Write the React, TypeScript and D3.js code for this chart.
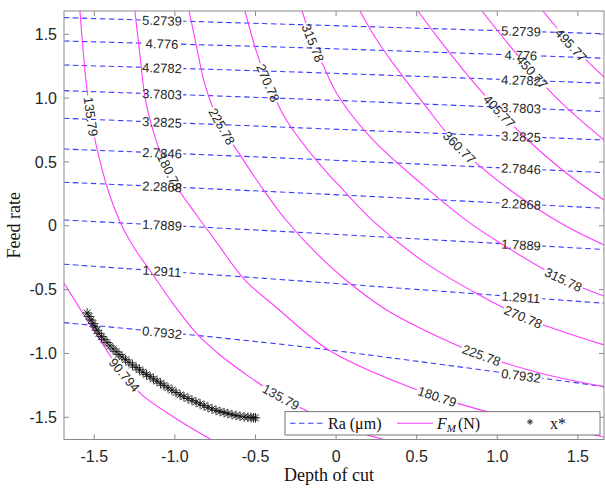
import * as d3 from "d3";

const WIDTH = 605;
const HEIGHT = 491;
const PLOT = { left: 64, right: 604, top: 11, bottom: 439.5 };

const X_DOMAIN = [-1.688, 1.662];
const Y_DOMAIN = [-1.674, 1.682];

const TICKS = [-1.5, -1, -0.5, 0, 0.5, 1, 1.5];
const TICK_LABELS = ["-1.5", "-1.0", "-0.5", "0", "0.5", "1.0", "1.5"];

// Ra contours, read at the left edge, near the middle and at the right edge
const raLevels = ["0.7932", "1.2911", "1.7889", "2.2868", "2.7846", "3.2825", "3.7803", "4.2782", "4.776", "5.2739"];
const raSampleX = [-1.688, -0.224, 1.662];
const raLeftY = [-0.759, -0.301, 0.045, 0.341, 0.601, 0.842, 1.058, 1.259, 1.447, 1.63];
const raMidY = [-0.945, -0.432, -0.052, 0.257, 0.525, 0.767, 0.993, 1.203, 1.395, 1.575];
const raRightY = [-1.26, -0.607, -0.186, 0.137, 0.416, 0.672, 0.894, 1.116, 1.312, 1.504];
const raLabelX = [-1.08, 1.147];

// FM contours
const fm090 = [[-1.688, -0.448], [-1.576, -0.675], [-1.465, -0.894], [-1.341, -1.129], [-1.204, -1.325], [-0.999, -1.505], [-0.776, -1.674]];
const fm135 = [[-1.589, 1.682], [-1.552, 1.142], [-1.514, 0.789], [-1.477, 0.57], [-1.415, 0.28], [-1.334, 0.014], [-1.248, -0.182], [-1.148, -0.362], [-1.006, -0.62], [-0.863, -0.847], [-0.72, -1.012], [-0.571, -1.153], [-0.379, -1.317], [-0.168, -1.458], [0.055, -1.583], [0.297, -1.674]];
const fm180 = [[-1.248, 1.682], [-1.217, 1.338], [-1.186, 1.009], [-1.142, 0.774], [-1.08, 0.539], [-0.987, 0.304], [-0.875, 0.1], [-0.751, -0.112], [-0.571, -0.417], [-0.367, -0.644], [-0.056, -0.965], [0.254, -1.16], [0.502, -1.285], [0.744, -1.387], [1.017, -1.482], [1.327, -1.568], [1.662, -1.654]];
const fm225 = [[-0.912, 1.682], [-0.869, 1.424], [-0.813, 1.103], [-0.726, 0.813], [-0.596, 0.555], [-0.459, 0.296], [-0.311, 0.045], [-0.124, -0.213], [0.068, -0.433], [0.303, -0.652], [0.545, -0.816], [0.899, -1.012], [1.265, -1.153], [1.662, -1.262]];
const fm270 = [[-0.565, 1.682], [-0.497, 1.376], [-0.422, 1.118], [-0.305, 0.821], [-0.118, 0.507], [0.049, 0.273], [0.235, 0.03], [0.545, -0.283], [0.831, -0.502], [1.159, -0.714], [1.662, -0.933]];
const fm315 = [[-0.211, 1.682], [-0.143, 1.431], [-0.081, 1.259], [0.006, 1.032], [0.217, 0.688], [0.545, 0.312], [0.812, 0.038], [1.017, -0.135], [1.401, -0.417], [1.662, -0.55]];
const fm360 = [[0.148, 1.682], [0.241, 1.478], [0.347, 1.283], [0.545, 0.954], [0.762, 0.617], [1.079, 0.28], [1.414, 0.006], [1.662, -0.15]];
const fm405 = [[0.508, 1.682], [0.632, 1.471], [0.8, 1.204], [1.004, 0.907], [1.203, 0.656], [1.42, 0.421], [1.662, 0.202]];
const fm450 = [[0.905, 1.682], [1.048, 1.455], [1.216, 1.204], [1.42, 0.937], [1.662, 0.672]];
const fm495 = [[1.283, 1.682], [1.37, 1.549], [1.457, 1.416], [1.563, 1.283], [1.662, 1.165]];
const fmCurves = [fm090, fm135, fm180, fm225, fm270, fm315, fm360, fm405, fm450, fm495];

// [curve index, text, x, y]
const fmLabels = [
  [0, "90.794", -1.328, -1.184],
  [1, "135.79", -1.529, 0.854],
  [1, "135.79", -0.342, -1.341],
  [2, "180.78", -1.021, 0.429],
  [2, "180.79", 0.623, -1.352],
  [3, "225.78", -0.711, 0.776],
  [3, "225.78", 0.899, -1.027],
  [4, "270.78", -0.422, 1.118],
  [4, "270.78", 1.159, -0.722],
  [5, "315.78", -0.143, 1.431],
  [5, "315.78", 1.407, -0.432],
  [6, "360.77", 0.762, 0.609],
  [7, "405.77", 1.001, 0.883],
  [8, "450.77", 1.215, 1.204],
  [9, "495.77", 1.457, 1.416],
];

// optimum points x*
const xStarX = [-1.545, -1.533, -1.52, -1.508, -1.496, -1.483, -1.471, -1.455, -1.44, -1.421, -1.403, -1.384, -1.365, -1.347, -1.328, -1.306, -1.285, -1.263, -1.241, -1.22, -1.198, -1.176, -1.154, -1.133, -1.111, -1.089, -1.068, -1.043, -1.018, -0.993, -0.968, -0.944, -0.919, -0.894, -0.869, -0.844, -0.819, -0.795, -0.77, -0.745, -0.72, -0.695, -0.671, -0.646, -0.621, -0.596, -0.571, -0.547, -0.528, -0.512, -0.5];
const xStarY = [-0.683, -0.71, -0.738, -0.765, -0.792, -0.818, -0.843, -0.868, -0.89, -0.915, -0.941, -0.964, -0.986, -1.008, -1.027, -1.049, -1.07, -1.091, -1.11, -1.128, -1.147, -1.166, -1.182, -1.2, -1.217, -1.233, -1.25, -1.269, -1.287, -1.306, -1.325, -1.339, -1.353, -1.367, -1.381, -1.395, -1.409, -1.422, -1.435, -1.446, -1.455, -1.463, -1.471, -1.479, -1.486, -1.492, -1.497, -1.5, -1.502, -1.504, -1.505];

const SANS = "'Liberation Sans', Arial, sans-serif";
const SERIF = "'Liberation Serif', 'Times New Roman', serif";
const RA_COLOR = "#3a3aff";
const FM_COLOR = "#ff3cff";
const AXIS_COLOR = "#8a8a8a";

function textWidth(s: string) {
  let w = 0;
  for (const ch of s) w += ch === "." ? 3.6 : 7.2;
  return w;
}

// snap a label onto a pixel polyline and get its angle
function placeOn(pts: number[][], tx: number, ty: number) {
  const cum = [0];
  for (let i = 1; i < pts.length; i++) {
    cum.push(cum[i - 1] + Math.hypot(pts[i][0] - pts[i - 1][0], pts[i][1] - pts[i - 1][1]));
  }
  let best = Infinity;
  let bestS = 0;
  for (let i = 1; i < pts.length; i++) {
    const [x0, y0] = pts[i - 1];
    const [x1, y1] = pts[i];
    const dx = x1 - x0, dy = y1 - y0;
    const len2 = dx * dx + dy * dy;
    let t = len2 ? ((tx - x0) * dx + (ty - y0) * dy) / len2 : 0;
    t = Math.max(0, Math.min(1, t));
    const d = Math.hypot(x0 + t * dx - tx, y0 + t * dy - ty);
    if (d < best) {
      best = d;
      bestS = cum[i - 1] + t * Math.sqrt(len2);
    }
  }
  const at = (s: number) => {
    s = Math.max(0, Math.min(cum[cum.length - 1], s));
    for (let i = 1; i < pts.length; i++) {
      if (s <= cum[i] || i === pts.length - 1) {
        const seg = cum[i] - cum[i - 1] || 1;
        const t = (s - cum[i - 1]) / seg;
        return [pts[i - 1][0] + t * (pts[i][0] - pts[i - 1][0]), pts[i - 1][1] + t * (pts[i][1] - pts[i - 1][1])];
      }
    }
    return pts[pts.length - 1];
  };
  const p = at(bestS);
  const a = at(bestS - 10);
  const b = at(bestS + 10);
  let ang = (Math.atan2(b[1] - a[1], b[0] - a[0]) * 180) / Math.PI;
  if (ang > 90) ang -= 180;
  if (ang < -90) ang += 180;
  return { x: p[0], y: p[1], angle: ang };
}

const asterisk = (s: number) =>
  `M0,${-s}V${s}M${-s},0H${s}M${-0.7 * s},${-0.7 * s}L${0.7 * s},${0.7 * s}M${-0.7 * s},${0.7 * s}L${0.7 * s},${-0.7 * s}`;

const App = () => {
  const xScale = d3.scaleLinear().domain(X_DOMAIN).range([PLOT.left, PLOT.right]);
  const yScale = d3.scaleLinear().domain(Y_DOMAIN).range([PLOT.bottom, PLOT.top]);

  const line = d3
    .line<number[]>()
    .x((d) => d[0])
    .y((d) => d[1])
    .curve(d3.curveCatmullRom.alpha(0.5));

  const toPx = (pts: number[][]) => pts.map((p) => [xScale(p[0]), yScale(p[1])]);

  const raPaths = raLevels.map((_, i) =>
    toPx([
      [raSampleX[0], raLeftY[i]],
      [raSampleX[1], raMidY[i]],
      [raSampleX[2], raRightY[i]],
    ])
  );
  const raLabelPos = raLevels.flatMap((lvl, i) =>
    raLabelX.map((lx) => {
      const pts = raPaths[i];
      const px = xScale(lx);
      // y on the line at that x
      let py = pts[0][1];
      for (let k = 1; k < pts.length; k++) {
        if (px <= pts[k][0]) {
          const t = (px - pts[k - 1][0]) / (pts[k][0] - pts[k - 1][0]);
          py = pts[k - 1][1] + t * (pts[k][1] - pts[k - 1][1]);
          break;
        }
      }
      return { text: lvl, ...placeOn(pts, px, py) };
    })
  );

  const fmPaths = fmCurves.map(toPx);
  const fmLabelPos = fmLabels.map(([ci, text, lx, ly]) => ({
    text: text as string,
    ...placeOn(fmPaths[ci as number], xScale(lx as number), yScale(ly as number)),
  }));

  const gapRect = (l: { text: string; x: number; y: number; angle: number }, i: number) => {
    const w = textWidth(l.text) + 3;
    return (
      <rect
        key={i}
        x={-w / 2}
        y={-6}
        width={w}
        height={12}
        fill="black"
        transform={`translate(${l.x},${l.y}) rotate(${l.angle})`}
      />
    );
  };

  const labelText = (l: { text: string; x: number; y: number; angle: number }, i: number) => (
    <text
      key={i}
      transform={`translate(${l.x},${l.y}) rotate(${l.angle})`}
      textAnchor="middle"
      dy="0.36em"
      fontSize={13}
      fontFamily={SANS}
      fill="#262626"
    >
      {l.text}
    </text>
  );

  const legendY = 423.3;

  return (
    <svg
      width={WIDTH}
      height={HEIGHT}
      style={{ position: "absolute", left: 0, top: 0, background: "#fff" }}
    >
      <defs>
        <clipPath id="plotClip">
          <rect x={PLOT.left} y={PLOT.top} width={PLOT.right - PLOT.left} height={PLOT.bottom - PLOT.top} />
        </clipPath>
        <mask id="raMask" maskUnits="userSpaceOnUse" x={0} y={0} width={WIDTH} height={HEIGHT}>
          <rect width={WIDTH} height={HEIGHT} fill="white" />
          {raLabelPos.map(gapRect)}
        </mask>
        <mask id="fmMask" maskUnits="userSpaceOnUse" x={0} y={0} width={WIDTH} height={HEIGHT}>
          <rect width={WIDTH} height={HEIGHT} fill="white" />
          {fmLabelPos.map(gapRect)}
        </mask>
      </defs>

      <rect x={0} y={0} width={WIDTH} height={HEIGHT} fill="#fff" />

      <g clipPath="url(#plotClip)">
        <g mask="url(#raMask)">
          {raPaths.map((pts, i) => (
            <path key={i} d={line(pts) || ""} fill="none" stroke={RA_COLOR} strokeWidth={1.1} strokeDasharray="5.5,3.5" />
          ))}
        </g>
        <g mask="url(#fmMask)">
          {fmPaths.map((pts, i) => (
            <path key={i} d={line(pts) || ""} fill="none" stroke={FM_COLOR} strokeWidth={1.1} />
          ))}
        </g>
      </g>

      {raLabelPos.map(labelText)}
      {fmLabelPos.map(labelText)}

      <g stroke="#111" strokeWidth={0.9} fill="none">
        {xStarX.map((x, i) => (
          <path key={i} d={asterisk(4.8)} transform={`translate(${xScale(x)},${yScale(xStarY[i])})`} />
        ))}
      </g>

      {/* axes box with inward ticks */}
      <g stroke={AXIS_COLOR} strokeWidth={1} fill="none">
        <rect x={PLOT.left} y={PLOT.top} width={PLOT.right - PLOT.left} height={PLOT.bottom - PLOT.top} />
        {TICKS.map((t) => (
          <g key={"t" + t}>
            <line x1={xScale(t)} x2={xScale(t)} y1={PLOT.bottom} y2={PLOT.bottom - 5} />
            <line x1={xScale(t)} x2={xScale(t)} y1={PLOT.top} y2={PLOT.top + 5} />
            <line x1={PLOT.left} x2={PLOT.left + 5} y1={yScale(t)} y2={yScale(t)} />
            <line x1={PLOT.right} x2={PLOT.right - 5} y1={yScale(t)} y2={yScale(t)} />
          </g>
        ))}
      </g>

      <g fontFamily={SANS} fontSize={16} fill="#262626">
        {TICKS.map((t, i) => (
          <text key={"x" + t} x={xScale(t)} y={PLOT.bottom + 22.5} textAnchor="middle">
            {TICK_LABELS[i]}
          </text>
        ))}
        {TICKS.map((t, i) => (
          <text key={"y" + t} x={PLOT.left - 7} y={yScale(t)} dy="0.35em" textAnchor="end">
            {TICK_LABELS[i]}
          </text>
        ))}
      </g>

      <text x={329} y={481} textAnchor="middle" fontFamily={SERIF} fontSize={18} fill="#111">
        Depth of cut
      </text>
      <text
        transform={`translate(20,${(PLOT.top + PLOT.bottom) / 2}) rotate(-90)`}
        textAnchor="middle"
        fontFamily={SERIF}
        fontSize={18}
        fill="#111"
      >
        Feed rate
      </text>

      {/* legend */}
      <g>
        <rect x={285} y={411.7} width={315} height={23.3} fill="#fff" stroke="#555" strokeWidth={0.8} />
        <line x1={290} x2={325} y1={legendY} y2={legendY} stroke={RA_COLOR} strokeWidth={1.1} strokeDasharray="5.5,3.5" />
        <text x={328} y={legendY + 5.5} fontFamily={SERIF} fontSize={16} fill="#111">
          Ra (μm)
        </text>
        <line x1={397} x2={433} y1={legendY} y2={legendY} stroke={FM_COLOR} strokeWidth={1.1} />
        <text x={437} y={legendY + 5.5} fontFamily={SERIF} fontSize={16} fill="#111">
          <tspan fontStyle="italic">F</tspan>
          <tspan fontStyle="italic" fontSize={11} dy={3.5}>M</tspan>
          <tspan dy={-3.5} dx={2}>(N)</tspan>
        </text>
        <path d={asterisk(3)} transform={`translate(530,${legendY - 1.5})`} stroke="#111" strokeWidth={0.8} fill="none" />
        <text x={550} y={legendY + 5.5} fontFamily={SERIF} fontSize={16} fill="#111">
          x*
        </text>
      </g>
    </svg>
  );
};

export default App;
